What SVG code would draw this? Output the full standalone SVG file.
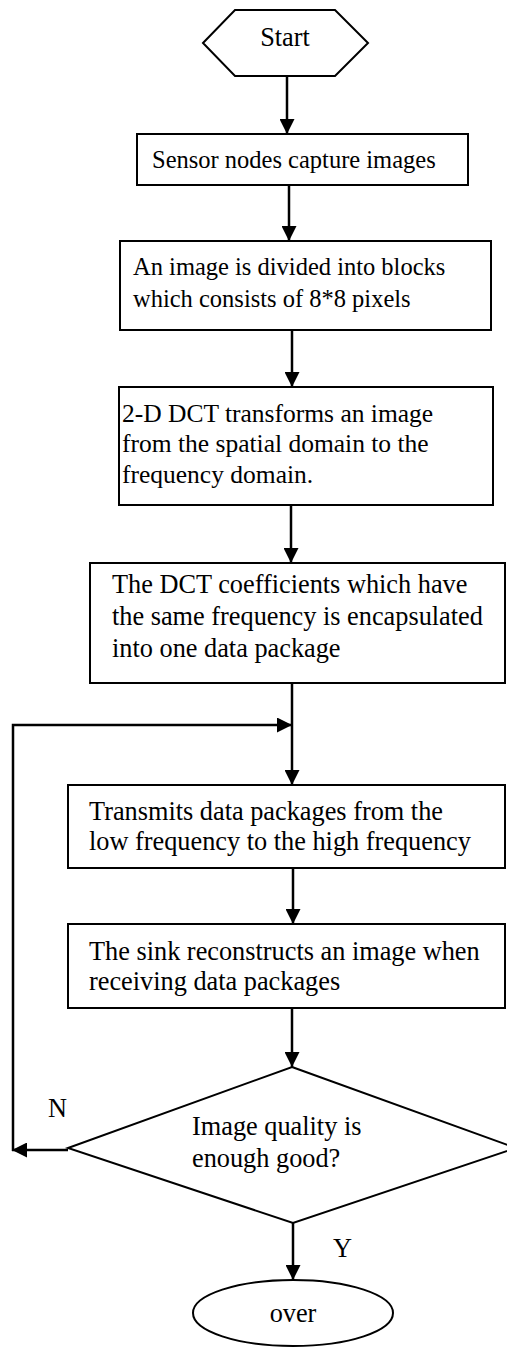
<svg xmlns="http://www.w3.org/2000/svg" width="507" height="1349" viewBox="0 0 507 1349">
  <style>
    .shape { fill: #fff; stroke: #000; stroke-width: 2; }
    .edge { fill: none; stroke: #000; stroke-width: 2.5; }
    text { font-family: "Liberation Serif", "Times New Roman", serif; fill: #000; }
    .s24 { font-size: 24.5px; }
    .s25 { font-size: 25.5px; }
    .s26 { font-size: 26.3px; }
  </style>
  <defs>
    <marker id="arrow" markerUnits="userSpaceOnUse" markerWidth="15" markerHeight="15" viewBox="0 0 15 15" refX="15" refY="7.5" orient="auto">
      <path d="M0,0 L15,7.5 L0,15 z" fill="#000"/>
    </marker>
  </defs>

  <rect width="507" height="1349" fill="#fff"/>

  <!-- connectors -->
  <g id="connectors">
    <path class="edge" d="M287,77 V134" marker-end="url(#arrow)"/>
    <path class="edge" d="M289,185 V241" marker-end="url(#arrow)"/>
    <path class="edge" d="M292,330 V387" marker-end="url(#arrow)"/>
    <path class="edge" d="M291,505 V563" marker-end="url(#arrow)"/>
    <path class="edge" d="M292,683 V785" marker-end="url(#arrow)"/>
    <path class="edge" d="M293,868 V924" marker-end="url(#arrow)"/>
    <path class="edge" d="M292,1008 V1067" marker-end="url(#arrow)"/>
    <path class="edge" d="M293,1223 V1280" marker-end="url(#arrow)"/>
    <!-- "N" branch back to the transmit step -->
    <path class="edge" d="M68,1150 H12" marker-end="url(#arrow)"/>
    <path class="edge" d="M13,1151 V725 H292" marker-end="url(#arrow)"/>
    <text class="s26" x="48" y="1117">N</text>
    <text class="s26" x="333" y="1257">Y</text>
  </g>

  <g id="start">
    <polygon class="shape" points="203,43 235,10 335,10 368,43 335,76 235,76"/>
    <text class="s26" x="285" y="46" text-anchor="middle">Start</text>
  </g>

  <g id="capture">
    <rect class="shape" x="137" y="134" width="331" height="51"/>
    <text class="s24" x="152" y="168">Sensor nodes capture images</text>
  </g>

  <g id="blocks">
    <rect class="shape" x="120" y="241" width="371" height="89"/>
    <text class="s24" x="133" y="275">An image is divided into blocks</text>
    <text class="s24" x="133" y="307">which consists of 8*8 pixels</text>
  </g>

  <g id="dct">
    <rect class="shape" x="119" y="387" width="374" height="118"/>
    <text class="s25" x="122" y="422">2-D DCT transforms an image</text>
    <text class="s25" x="122" y="452">from the spatial domain to the</text>
    <text class="s25" x="122" y="483">frequency domain.</text>
  </g>

  <g id="encapsulate">
    <rect class="shape" x="90" y="563" width="415" height="120"/>
    <text class="s26" x="112" y="593">The DCT coefficients which have</text>
    <text class="s26" x="112" y="625">the same frequency is encapsulated</text>
    <text class="s26" x="112" y="657">into one data package</text>
  </g>

  <g id="transmit">
    <rect class="shape" x="68" y="785" width="437" height="83"/>
    <text class="s26" x="89" y="820">Transmits data packages from the</text>
    <text class="s26" x="89" y="850">low frequency to the high frequency</text>
  </g>

  <g id="reconstruct">
    <rect class="shape" x="68" y="924" width="437" height="84"/>
    <text class="s26" x="89" y="960">The sink reconstructs an image when</text>
    <text class="s26" x="89" y="990">receiving data packages</text>
  </g>

  <g id="quality">
    <polygon class="shape" points="292,1067 516,1148 293,1223 68,1148"/>
    <text class="s26" x="192" y="1135">Image quality is</text>
    <text class="s26" x="192" y="1167">enough good?</text>
  </g>

  <g id="over">
    <ellipse class="shape" cx="293" cy="1313" rx="100" ry="33"/>
    <text class="s26" x="293" y="1322" text-anchor="middle">over</text>
  </g>
</svg>
